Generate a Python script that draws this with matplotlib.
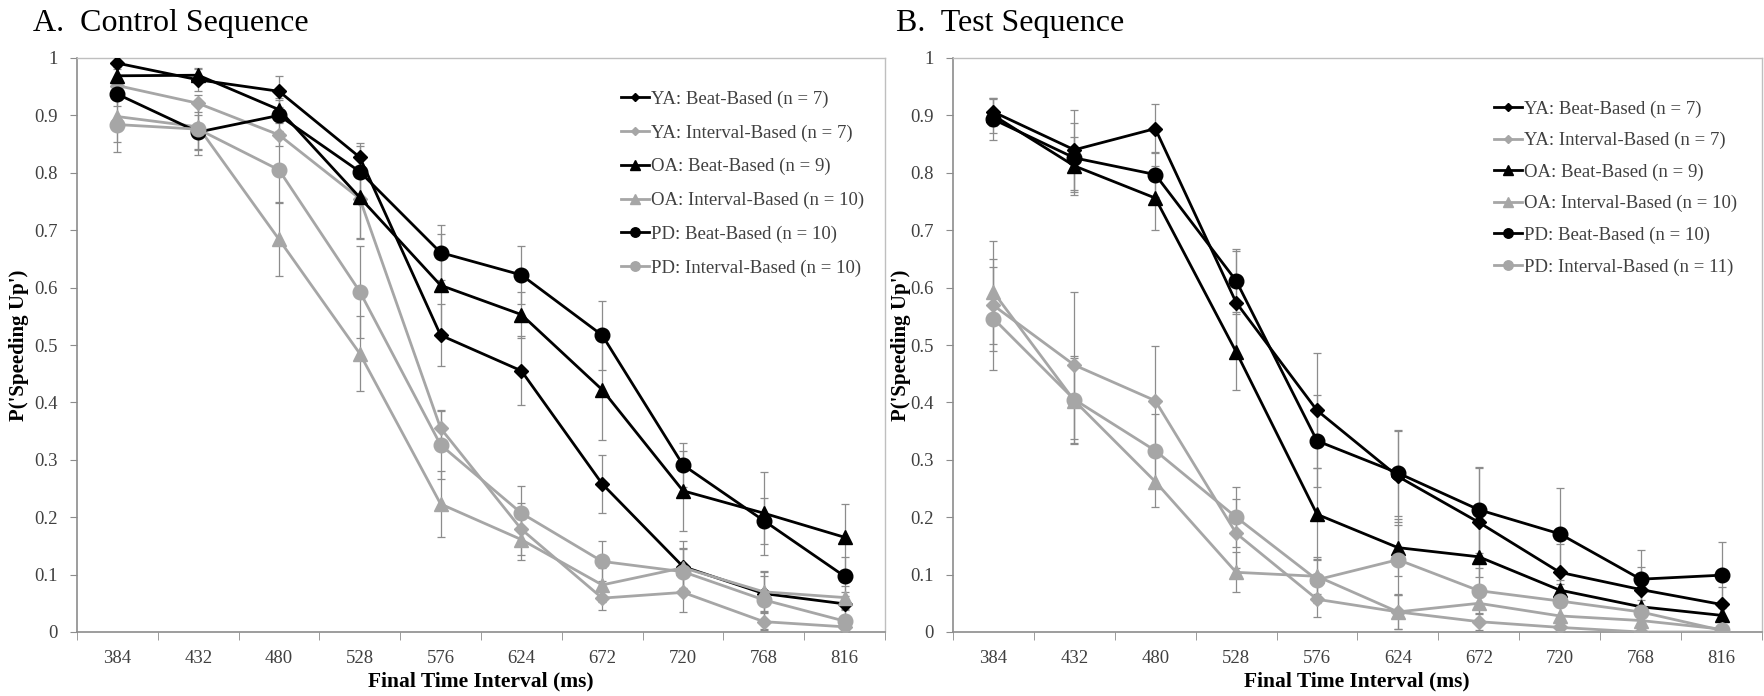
import numpy as np
import matplotlib
matplotlib.use("Agg")
import matplotlib.pyplot as plt

plt.rcParams['font.family'] = ['Liberation Serif', 'DejaVu Serif']

intervals = ["384", "432", "480", "528", "576", "624", "672", "720", "768", "816"]

# A. control sequence
ctrl_ya_beat = [0.991, 0.962, 0.942, 0.827, 0.517, 0.455, 0.258, 0.114, 0.067, 0.049]
ctrl_ya_int = [0.952, 0.921, 0.866, 0.755, 0.355, 0.179, 0.059, 0.069, 0.018, 0.009]
ctrl_oa_beat = [0.969, 0.970, 0.910, 0.757, 0.604, 0.553, 0.422, 0.246, 0.207, 0.165]
ctrl_oa_int = [0.898, 0.880, 0.684, 0.485, 0.223, 0.161, 0.082, 0.112, 0.070, 0.060]
ctrl_pd_beat = [0.937, 0.871, 0.900, 0.802, 0.661, 0.622, 0.517, 0.291, 0.194, 0.097]
ctrl_pd_int = [0.884, 0.876, 0.805, 0.593, 0.326, 0.207, 0.123, 0.105, 0.056, 0.019]

ctrl_ya_beat_err = [0.010, 0.020, 0.027, 0.025, 0.054, 0.060, 0.051, 0.045, 0.030, 0.020]
ctrl_ya_int_err = [0.015, 0.015, 0.020, 0.070, 0.030, 0.045, 0.020, 0.034, 0.015, 0.010]
ctrl_oa_beat_err = [0.015, 0.010, 0.020, 0.070, 0.090, 0.040, 0.088, 0.070, 0.072, 0.058]
ctrl_oa_int_err = [0.045, 0.040, 0.064, 0.066, 0.057, 0.035, 0.030, 0.035, 0.035, 0.020]
ctrl_pd_beat_err = [0.020, 0.030, 0.027, 0.045, 0.048, 0.050, 0.060, 0.038, 0.040, 0.034]
ctrl_pd_int_err = [0.048, 0.045, 0.055, 0.080, 0.060, 0.048, 0.035, 0.040, 0.050, 0.020]

# B. test sequence
test_ya_beat = [0.906, 0.840, 0.877, 0.574, 0.386, 0.271, 0.191, 0.104, 0.074, 0.048]
test_ya_int = [0.569, 0.465, 0.403, 0.172, 0.057, 0.035, 0.018, 0.008, 0.000, 0.000]
test_oa_beat = [0.900, 0.812, 0.756, 0.488, 0.205, 0.147, 0.131, 0.073, 0.044, 0.029]
test_oa_int = [0.592, 0.403, 0.262, 0.104, 0.097, 0.035, 0.050, 0.028, 0.020, 0.005]
test_pd_beat = [0.893, 0.826, 0.797, 0.612, 0.333, 0.277, 0.213, 0.171, 0.092, 0.099]
test_pd_int = [0.546, 0.405, 0.316, 0.200, 0.091, 0.126, 0.072, 0.054, 0.035, 0.003]

test_ya_beat_err = [0.025, 0.070, 0.042, 0.090, 0.100, 0.080, 0.095, 0.050, 0.040, 0.030]
test_ya_int_err = [0.080, 0.128, 0.095, 0.060, 0.030, 0.030, 0.015, 0.010, 0.000, 0.000]
test_oa_beat_err = [0.030, 0.050, 0.056, 0.066, 0.080, 0.050, 0.070, 0.030, 0.030, 0.020]
test_oa_int_err = [0.090, 0.075, 0.045, 0.035, 0.030, 0.030, 0.030, 0.020, 0.015, 0.005]
test_pd_beat_err = [0.035, 0.060, 0.040, 0.055, 0.080, 0.075, 0.075, 0.080, 0.050, 0.057]
test_pd_int_err = [0.090, 0.075, 0.063, 0.052, 0.040, 0.060, 0.040, 0.030, 0.020, 0.005]

labels_a = ["YA: Beat-Based (n = 7)", "YA: Interval-Based (n = 7)",
            "OA: Beat-Based (n = 9)", "OA: Interval-Based (n = 10)",
            "PD: Beat-Based (n = 10)", "PD: Interval-Based (n = 10)"]
labels_b = ["YA: Beat-Based (n = 7)", "YA: Interval-Based (n = 7)",
            "OA: Beat-Based (n = 9)", "OA: Interval-Based (n = 10)",
            "PD: Beat-Based (n = 10)", "PD: Interval-Based (n = 11)"]

BLACK = "#000000"
GRAY = "#a6a6a6"
styles = [(BLACK, "D", 7), (GRAY, "D", 7), (BLACK, "^", 10),
          (GRAY, "^", 10), (BLACK, "o", 10.5), (GRAY, "o", 10.5)]


def draw_panel(ax, series, errs, labels):
    x = np.arange(len(intervals))
    handles = []
    for vals, err, (col, mk, ms), lab in zip(series, errs, styles, labels):
        ax.errorbar(x, vals, yerr=err, fmt="none", ecolor="#8c8c8c",
                    elinewidth=0.9, capsize=3, capthick=0.9, zorder=2)
        h, = ax.plot(x, vals, color=col, marker=mk, markersize=ms,
                     linewidth=2, label=lab, zorder=3)
        handles.append(h)
    ax.set_xlim(-0.5, len(intervals) - 0.5)
    ax.set_ylim(0, 1)
    ax.set_yticks(np.arange(0, 1.01, 0.1))
    ax.set_yticklabels(["0"] + ["%.1f" % v for v in np.arange(0.1, 0.95, 0.1)] + ["1"])
    ax.set_xticks(x)
    ax.set_xticklabels(intervals)
    ax.set_xticks(np.arange(-0.5, len(intervals), 1), minor=True)
    ax.tick_params(axis="x", which="major", length=0, pad=13,
                   labelsize=13.5, labelcolor="#404040")
    ax.tick_params(axis="x", which="minor", length=6, color="#8c8c8c",
                   direction="out")
    ax.tick_params(axis="y", length=5, color="#8c8c8c", pad=9,
                   labelsize=13.5, labelcolor="#404040")
    for side in ["top", "right"]:
        ax.spines[side].set_color("#bfbfbf")
        ax.spines[side].set_linewidth(1)
    for side in ["left", "bottom"]:
        ax.spines[side].set_color("#8c8c8c")
        ax.spines[side].set_linewidth(1.2)
    return handles


fig = plt.figure(figsize=(17.65, 6.96), dpi=100)
W, H = 1765.0, 696.0
ax1 = fig.add_axes([77 / W, 1 - 632 / H, (885 - 77) / W, (632 - 58) / H])
ax2 = fig.add_axes([953 / W, 1 - 632 / H, (1762 - 953) / W, (632 - 58) / H])

h1 = draw_panel(ax1,
                [ctrl_ya_beat, ctrl_ya_int, ctrl_oa_beat, ctrl_oa_int, ctrl_pd_beat, ctrl_pd_int],
                [ctrl_ya_beat_err, ctrl_ya_int_err, ctrl_oa_beat_err, ctrl_oa_int_err,
                 ctrl_pd_beat_err, ctrl_pd_int_err], labels_a)
h2 = draw_panel(ax2,
                [test_ya_beat, test_ya_int, test_oa_beat, test_oa_int, test_pd_beat, test_pd_int],
                [test_ya_beat_err, test_ya_int_err, test_oa_beat_err, test_oa_int_err,
                 test_pd_beat_err, test_pd_int_err], labels_b)

leg_kw = dict(frameon=False, fontsize=13.5, loc="upper left", borderpad=0,
              handlelength=1.5, handletextpad=0.1, markerscale=0.65,
              bbox_transform=fig.transFigure)
l1 = ax1.legend(handles=h1, bbox_to_anchor=(612 / W, 1 - 81 / H),
                labelspacing=0.88, **leg_kw)
l2 = ax2.legend(handles=h2, bbox_to_anchor=(1485 / W, 1 - 91 / H),
                labelspacing=0.76, **leg_kw)
for leg in (l1, l2):
    for t in leg.get_texts():
        t.set_color("#404040")

fig.text(33 / W, 1 - 31 / H, "A.  Control Sequence", fontsize=23, va="baseline")
fig.text(896 / W, 1 - 31 / H, "B.  Test Sequence", fontsize=23, va="baseline")

for xc in (19, 901):
    fig.text(xc / W, 1 - 345 / H, "P('Speeding Up')", rotation=90, fontsize=15,
             fontweight="bold", ha="center", va="center")
for xc in (481, 1357):
    fig.text(xc / W, 1 - 681 / H, "Final Time Interval (ms)", fontsize=15.5,
             fontweight="bold", ha="center", va="center")

fig.savefig("out.png", dpi=100)
